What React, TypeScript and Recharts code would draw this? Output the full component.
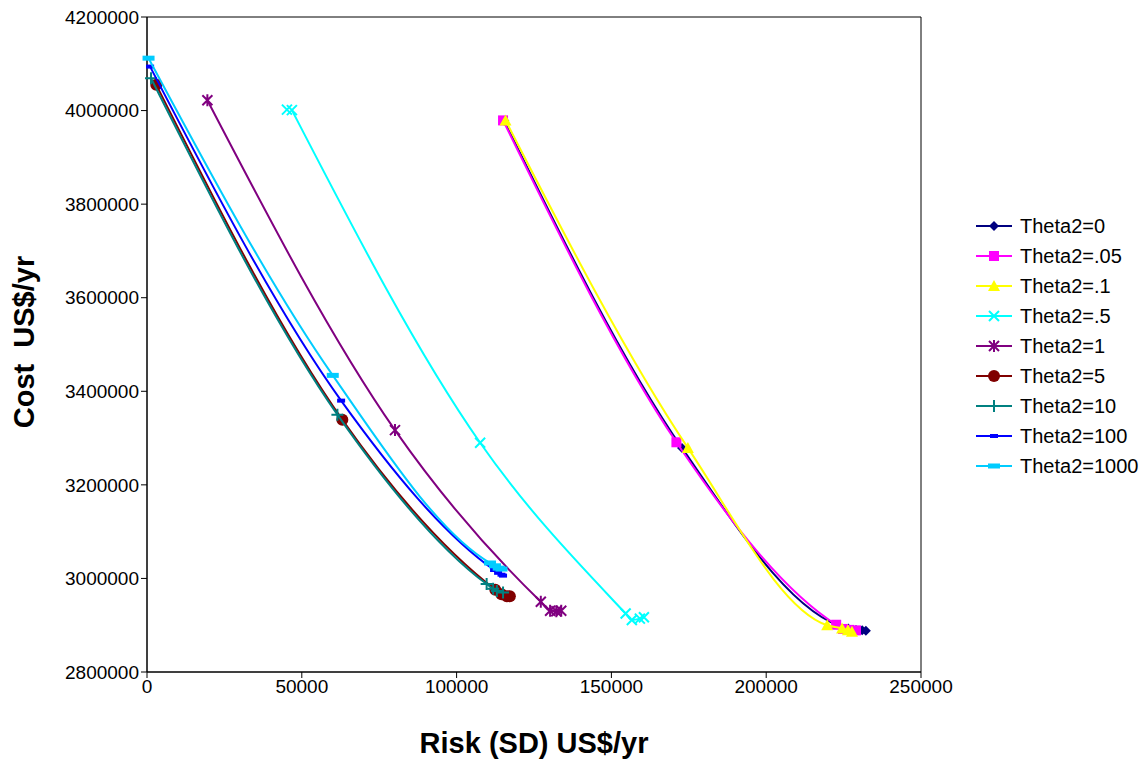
import { ReferenceArea, Scatter, ScatterChart, XAxis, YAxis } from "recharts"

const names = [
  "Theta2=0",
  "Theta2=.05",
  "Theta2=.1",
  "Theta2=.5",
  "Theta2=1",
  "Theta2=5",
  "Theta2=10",
  "Theta2=100",
  "Theta2=1000",
]

const colors = [
  "#000080",
  "#ff00ff",
  "#ffff00",
  "#00ffff",
  "#800080",
  "#800000",
  "#008080",
  "#0000ff",
  "#00ccff",
]

// risk (SD) per series
const riskX = [
  [115400, 172800, 226500, 229000, 231000, 232200],
  [115000, 171000, 222600, 224800, 226800, 229000],
  [115800, 174700, 219700, 224500, 226400, 227700],
  [46800, 107600, 154600, 156600, 159200, 160500],
  [19500, 80100, 127200, 130200, 132200, 133800],
  [3000, 63100, 112500, 114500, 116200, 117200],
  [1300, 61500, 109700, 111800, 113000, 115000],
  [1000, 62700, 112100, 113400, 114500, 115000],
  [500, 60000, 110800, 112400, 113600, 114500],
]

// cost per series
const costY = [
  [3978000, 3279000, 2893000, 2890000, 2889000, 2888000],
  [3979000, 3291000, 2901000, 2892000, 2890000, 2889000],
  [3979000, 3279000, 2900000, 2893000, 2889000, 2886000],
  [4001000, 3290000, 2925000, 2911000, 2914000, 2917000],
  [4022000, 3317000, 2950000, 2931000, 2930000, 2931000],
  [4055000, 3339000, 2976000, 2966000, 2962000, 2962000],
  [4069000, 3350000, 2988000, 2978000, 2973000, 2970000],
  [4094000, 3380000, 3018000, 3012000, 3008000, 3006000],
  [4112000, 3434000, 3033000, 3027000, 3022000, 3020000],
]

// second, nearly coincident top point of Theta2=.5
const extraHalfX = [45200]
const extraHalfY = [4002000]

const xTicks = [0, 50000, 100000, 150000, 200000, 250000]
const yTicks = [2800000, 3000000, 3200000, 3400000, 3600000, 3800000, 4000000, 4200000]

const series = names.map((name, i) => ({
  name,
  color: colors[i],
  data: riskX[i].map((x, j) => ({ x, y: costY[i][j] })),
}))

const extraHalf = extraHalfX.map((x, j) => ({ x, y: extraHalfY[j] }))

const font = "'Liberation Sans', Arial, sans-serif"

function Marker({ kind, cx, cy, color }: any) {
  if (cx == null || cy == null) return null
  switch (kind) {
    case 0:
      return <polygon points={`${cx},${cy - 5} ${cx + 5},${cy} ${cx},${cy + 5} ${cx - 5},${cy}`} fill={color} />
    case 1:
      return <rect x={cx - 5} y={cy - 5} width={10} height={10} fill={color} />
    case 2:
      return <polygon points={`${cx},${cy - 6} ${cx + 6},${cy + 5} ${cx - 6},${cy + 5}`} fill={color} />
    case 3:
      return (
        <path d={`M${cx - 5},${cy - 5}L${cx + 5},${cy + 5}M${cx - 5},${cy + 5}L${cx + 5},${cy - 5}`} stroke={color} strokeWidth={2} />
      )
    case 4:
      return (
        <path
          d={`M${cx - 5},${cy - 5}L${cx + 5},${cy + 5}M${cx - 5},${cy + 5}L${cx + 5},${cy - 5}M${cx},${cy - 6}L${cx},${cy + 6}`}
          stroke={color}
          strokeWidth={2}
        />
      )
    case 5:
      return <circle cx={cx} cy={cy} r={6} fill={color} />
    case 6:
      return <path d={`M${cx - 6},${cy}L${cx + 6},${cy}M${cx},${cy - 6}L${cx},${cy + 6}`} stroke={color} strokeWidth={2} />
    case 7:
      return <rect x={cx - 4} y={cy - 2} width={8} height={4} fill={color} />
    default:
      return <rect x={cx - 6} y={cy - 2.5} width={12} height={5} fill={color} />
  }
}

function LegendBox() {
  return (
    <div style={{ position: "absolute", left: 976, top: 211, fontFamily: font, fontSize: 20, color: "#000" }}>
      {series.map((s, i) => (
        <div key={s.name} style={{ display: "flex", alignItems: "center", height: 30 }}>
          <svg width={38} height={14} style={{ marginRight: 6 }}>
            <line x1={0} y1={7} x2={36} y2={7} stroke={s.color} strokeWidth={2} />
            <Marker kind={i} cx={18} cy={7} color={s.color} />
          </svg>
          <span>{s.name}</span>
        </div>
      ))}
    </div>
  )
}

const tickStyle = { fontSize: 19, fill: "#000", fontFamily: font }

export default function App() {
  return (
    <div style={{ position: "absolute", left: 0, top: 0, width: 1148, height: 761, background: "#fff" }}>
      <ScatterChart width={1148} height={761} margin={{ top: 17, right: 227, bottom: 29, left: 10 }}>
        <XAxis
          type="number"
          dataKey="x"
          domain={[0, 250000]}
          ticks={xTicks}
          interval={0}
          height={60}
          tick={tickStyle}
          stroke="#000"
          tickSize={6}
        />
        <YAxis
          type="number"
          dataKey="y"
          domain={[2800000, 4200000]}
          ticks={yTicks}
          interval={0}
          width={137}
          tick={tickStyle}
          stroke="#000"
          tickSize={6}
        />
        <ReferenceArea x1={0} x2={250000} y1={2800000} y2={4200000} fill="none" stroke="#000" strokeWidth={1} />
        {series.map((s, i) => (
          <Scatter
            key={s.name}
            name={s.name}
            data={s.data}
            fill={s.color}
            line={{ stroke: s.color, strokeWidth: 2 }}
            lineJointType="monotoneX"
            shape={(p: any) => <Marker kind={i} cx={p.cx} cy={p.cy} color={s.color} />}
            isAnimationActive={false}
          />
        ))}
        <Scatter
          name="Theta2=.5 top"
          data={extraHalf}
          fill={colors[3]}
          shape={(p: any) => <Marker kind={3} cx={p.cx} cy={p.cy} color={colors[3]} />}
          isAnimationActive={false}
        />
      </ScatterChart>
      <LegendBox />
      <div
        style={{
          position: "absolute",
          left: 534,
          top: 743,
          transform: "translate(-50%, -50%)",
          fontFamily: font,
          fontWeight: "bold",
          fontSize: 29,
          whiteSpace: "nowrap",
        }}
      >
        Risk (SD) US$/yr
      </div>
      <div
        style={{
          position: "absolute",
          left: 24,
          top: 342,
          transform: "translate(-50%, -50%) rotate(-90deg)",
          fontFamily: font,
          fontWeight: "bold",
          fontSize: 29,
          whiteSpace: "pre",
        }}
      >
        {"Cost  US$/yr"}
      </div>
    </div>
  )
}
